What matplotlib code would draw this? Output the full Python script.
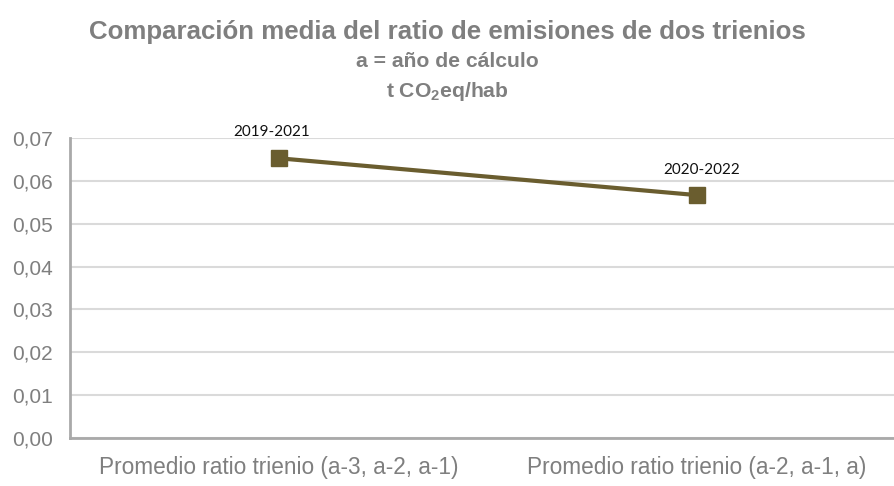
import matplotlib.pyplot as plt
from matplotlib.ticker import FuncFormatter

# data
categories = ["Promedio ratio trienio (a-3, a-2, a-1)", "Promedio ratio trienio (a-2, a-1, a)"]
values = [0.0653, 0.0567]
point_labels = ["2019-2021", "2020-2022"]
yticks = [0.00, 0.01, 0.02, 0.03, 0.04, 0.05, 0.06, 0.07]

plt.rcParams["mathtext.default"] = "regular"

narrow = ["Liberation Sans Narrow", "Liberation Sans", "DejaVu Sans"]
grey_text = "#7f7f7f"
line_col = "#6a5d2f"

fig = plt.figure(figsize=(8.94, 4.86), dpi=100)
ax = fig.add_axes([0.078, 0.0988, 0.935, 0.617])

x = range(len(categories))
ax.plot(x, values, color=line_col, lw=3, marker="s", markersize=11, zorder=3)

ax.set_xlim(-0.5, 1.5)
ax.set_ylim(0, 0.07)
ax.set_yticks(yticks)
ax.yaxis.set_major_formatter(FuncFormatter(lambda v, p: f"{v:.2f}".replace(".", ",")))
ax.set_xticks(list(x))
ax.set_xticklabels(categories)

for lab in ax.get_xticklabels():
    lab.set_family(narrow)
    lab.set_fontsize(16.3)
    lab.set_color(grey_text)
for lab in ax.get_yticklabels():
    lab.set_family(narrow)
    lab.set_fontsize(15)
    lab.set_color(grey_text)
ax.tick_params(axis="both", length=0)
ax.tick_params(axis="x", pad=13)
ax.tick_params(axis="y", pad=12)

ax.grid(axis="y", color="#dadada", lw=1.5)
ax.set_axisbelow(True)
for s in ["top", "right"]:
    ax.spines[s].set_visible(False)
for s in ["left", "bottom"]:
    ax.spines[s].set_color("#a9a9a9")
    ax.spines[s].set_linewidth(2)

# point labels
ax.annotate(point_labels[0], (0, values[0]), xytext=(-5, 18.7), textcoords="offset points",
            ha="center", va="center", fontsize=11, family=["Lato", "DejaVu Sans"], color="#111111")
ax.annotate(point_labels[1], (1, values[1]), xytext=(3.6, 18), textcoords="offset points",
            ha="center", va="center", fontsize=11, family=["Lato", "DejaVu Sans"], color="#111111")

# titles
fig.text(0.5, 0.934, "Comparación media del ratio de emisiones de dos trienios", ha="center", va="center",
         fontsize=18.6, fontweight="bold", color=grey_text, family=narrow)
fig.text(0.5, 0.874, "a = año de cálculo", ha="center", va="center",
         fontsize=15.2, fontweight="bold", color=grey_text, family=narrow)
fig.text(0.5, 0.812, "t CO$_2$eq/hab", ha="center", va="center",
         fontsize=15.2, fontweight="bold", color=grey_text, family=narrow)

fig.savefig("out.png", dpi=100)
